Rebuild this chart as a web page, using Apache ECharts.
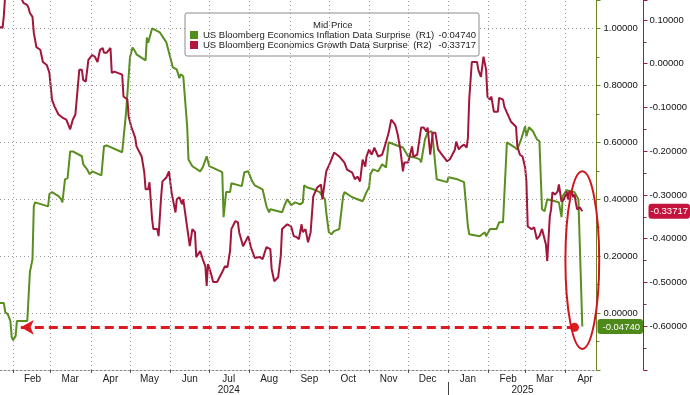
<!DOCTYPE html>
<html><head><meta charset="utf-8">
<script src="https://cdn.jsdelivr.net/npm/echarts@6/dist/echarts.min.js"></script>
<style>html,body{margin:0;padding:0;background:#fff}#c{width:690px;height:395px}</style>
</head><body><div id="c"></div>
<script>
const inflName = 'US Bloomberg Economics Inflation Data Surprise';
const growthName = 'US Bloomberg Economics Growth Data Surprise';
const inflTag = '(R1)';
const growthTag = '(R2)';
const inflLast = -0.04740;
const growthLast = -0.33717;

const inflDates = ['2024-01-22','2024-01-25','2024-01-26','2024-01-28','2024-01-30','2024-01-31','2024-02-01','2024-02-03','2024-02-04','2024-02-12','2024-02-14','2024-02-15','2024-02-16','2024-02-17','2024-02-18','2024-02-28','2024-02-29','2024-03-02','2024-03-07','2024-03-09','2024-03-10','2024-03-12','2024-03-14','2024-03-16','2024-03-18','2024-03-25','2024-03-26','2024-03-29','2024-03-31','2024-04-02','2024-04-09','2024-04-11','2024-04-13','2024-04-25','2024-04-26','2024-04-28','2024-04-29','2024-05-01','2024-05-03','2024-05-05','2024-05-06','2024-05-13','2024-05-14','2024-05-15','2024-05-18','2024-05-19','2024-05-24','2024-05-29','2024-06-01','2024-06-03','2024-06-06','2024-06-08','2024-06-09','2024-06-11','2024-06-14','2024-06-15','2024-06-18','2024-06-24','2024-06-26','2024-06-29','2024-07-01','2024-07-11','2024-07-12','2024-07-14','2024-07-17','2024-07-18','2024-07-26','2024-07-28','2024-07-31','2024-08-03','2024-08-05','2024-08-11','2024-08-14','2024-08-16','2024-08-17','2024-08-26','2024-08-28','2024-08-30','2024-09-02','2024-09-05','2024-09-09','2024-09-11','2024-09-12','2024-09-14','2024-09-19','2024-09-24','2024-09-26','2024-09-28','2024-09-29','2024-10-01','2024-10-03','2024-10-05','2024-10-09','2024-10-12','2024-10-13','2024-10-19','2024-10-27','2024-10-30','2024-11-01','2024-11-02','2024-11-04','2024-11-08','2024-11-11','2024-11-14','2024-11-16','2024-11-24','2024-11-27','2024-12-01','2024-12-06','2024-12-10','2024-12-11','2024-12-14','2024-12-16','2024-12-19','2024-12-20','2024-12-23','2024-12-31','2025-01-01','2025-01-08','2025-01-13','2025-01-16','2025-01-17','2025-01-25','2025-01-29','2025-01-30','2025-02-02','2025-02-07','2025-02-09','2025-02-12','2025-02-15','2025-02-21','2025-02-23','2025-02-26','2025-03-01','2025-03-02','2025-03-04','2025-03-07','2025-03-10','2025-03-12','2025-03-14','2025-03-16','2025-03-18','2025-03-24','2025-03-27','2025-03-29','2025-03-30','2025-04-02','2025-04-08','2025-04-11','2025-04-14'];
const inflValues = [0.035,0.035,0.004,-0.004,-0.028,-0.084,-0.095,-0.081,-0.028,-0.028,0.144,0.147,0.189,0.375,0.389,0.375,0.418,0.425,0.411,0.400,0.389,0.470,0.474,0.568,0.568,0.551,0.523,0.505,0.488,0.498,0.484,0.586,0.589,0.565,0.611,0.705,0.709,0.898,0.933,0.919,0.909,0.888,0.968,0.950,1.000,1.000,0.986,0.951,0.898,0.863,0.856,0.825,0.839,0.832,0.656,0.540,0.516,0.498,0.512,0.551,0.516,0.495,0.337,0.425,0.425,0.456,0.446,0.495,0.498,0.463,0.449,0.435,0.375,0.354,0.365,0.354,0.379,0.400,0.379,0.389,0.382,0.389,0.449,0.442,0.435,0.425,0.411,0.400,0.354,0.284,0.277,0.288,0.295,0.411,0.425,0.407,0.393,0.425,0.442,0.488,0.505,0.498,0.523,0.512,0.600,0.586,0.582,0.551,0.547,0.540,0.530,0.611,0.635,0.639,0.611,0.470,0.460,0.477,0.470,0.460,0.305,0.277,0.270,0.284,0.270,0.295,0.295,0.319,0.319,0.600,0.582,0.575,0.611,0.656,0.621,0.653,0.639,0.611,0.604,0.365,0.358,0.400,0.393,0.389,0.337,0.411,0.432,0.425,0.400,-0.0474];

const growthDates = ['2024-01-22','2024-01-24','2024-01-25','2024-01-26','2024-01-28','2024-02-02','2024-02-06','2024-02-08','2024-02-09','2024-02-12','2024-02-13','2024-02-14','2024-02-16','2024-02-17','2024-02-19','2024-02-22','2024-02-24','2024-02-27','2024-02-29','2024-03-02','2024-03-04','2024-03-07','2024-03-10','2024-03-13','2024-03-16','2024-03-18','2024-03-20','2024-03-21','2024-03-23','2024-03-25','2024-03-26','2024-03-28','2024-03-30','2024-04-02','2024-04-04','2024-04-06','2024-04-08','2024-04-10','2024-04-11','2024-04-13','2024-04-16','2024-04-17','2024-04-19','2024-04-25','2024-04-26','2024-04-29','2024-04-30','2024-05-02','2024-05-05','2024-05-06','2024-05-10','2024-05-12','2024-05-13','2024-05-15','2024-05-16','2024-05-18','2024-05-19','2024-05-22','2024-05-23','2024-05-25','2024-05-26','2024-05-29','2024-05-31','2024-06-02','2024-06-05','2024-06-06','2024-06-08','2024-06-10','2024-06-11','2024-06-14','2024-06-16','2024-06-18','2024-06-20','2024-06-21','2024-06-24','2024-06-26','2024-06-28','2024-06-29','2024-06-30','2024-07-02','2024-07-04','2024-07-07','2024-07-11','2024-07-13','2024-07-15','2024-07-17','2024-07-18','2024-07-21','2024-07-23','2024-07-24','2024-07-27','2024-07-31','2024-08-02','2024-08-05','2024-08-09','2024-08-11','2024-08-14','2024-08-17','2024-08-18','2024-08-20','2024-08-23','2024-08-25','2024-08-26','2024-08-30','2024-09-02','2024-09-04','2024-09-06','2024-09-08','2024-09-10','2024-09-11','2024-09-13','2024-09-15','2024-09-17','2024-09-19','2024-09-22','2024-09-25','2024-09-26','2024-09-29','2024-10-02','2024-10-05','2024-10-09','2024-10-13','2024-10-15','2024-10-19','2024-10-21','2024-10-23','2024-10-25','2024-10-27','2024-10-29','2024-10-30','2024-11-01','2024-11-03','2024-11-05','2024-11-08','2024-11-11','2024-11-13','2024-11-14','2024-11-16','2024-11-18','2024-11-21','2024-11-23','2024-11-25','2024-11-27','2024-11-28','2024-12-01','2024-12-04','2024-12-05','2024-12-08','2024-12-09','2024-12-11','2024-12-13','2024-12-15','2024-12-16','2024-12-18','2024-12-20','2024-12-22','2024-12-24','2024-12-25','2024-12-27','2024-12-31','2025-01-02','2025-01-04','2025-01-06','2025-01-07','2025-01-09','2025-01-11','2025-01-13','2025-01-15','2025-01-16','2025-01-17','2025-01-19','2025-01-23','2025-01-24','2025-01-26','2025-01-28','2025-01-30','2025-01-31','2025-02-02','2025-02-03','2025-02-05','2025-02-08','2025-02-09','2025-02-12','2025-02-13','2025-02-15','2025-02-18','2025-02-19','2025-02-22','2025-02-23','2025-02-25','2025-02-27','2025-03-01','2025-03-02','2025-03-03','2025-03-06','2025-03-08','2025-03-10','2025-03-12','2025-03-14','2025-03-17','2025-03-18','2025-03-19','2025-03-20','2025-03-21','2025-03-22','2025-03-24','2025-03-26','2025-03-27','2025-03-29','2025-03-30','2025-03-31','2025-04-02','2025-04-03','2025-04-04','2025-04-06','2025-04-07','2025-04-08','2025-04-09','2025-04-10','2025-04-12','2025-04-14'];
const growthValues = [0.084,0.082,0.111,0.157,0.19,0.20,0.168,0.146,0.139,0.134,0.127,0.116,0.107,0.071,0.038,0.032,0.004,-0.003,-0.021,-0.082,-0.098,-0.116,-0.123,-0.128,-0.150,-0.128,-0.116,-0.112,-0.014,-0.014,-0.037,-0.041,0.009,0.020,0.016,0.004,0.032,0.036,0.025,0.025,0.036,-0.021,-0.018,-0.025,-0.075,-0.082,-0.121,-0.144,-0.169,-0.189,-0.212,-0.248,-0.287,-0.287,-0.271,-0.355,-0.378,-0.378,-0.394,-0.303,-0.269,-0.260,-0.246,-0.294,-0.340,-0.310,-0.305,-0.321,-0.310,-0.374,-0.417,-0.378,-0.385,-0.442,-0.428,-0.447,-0.463,-0.508,-0.458,-0.476,-0.499,-0.499,-0.476,-0.463,-0.465,-0.428,-0.378,-0.360,-0.362,-0.385,-0.417,-0.394,-0.419,-0.444,-0.442,-0.447,-0.419,-0.424,-0.469,-0.497,-0.488,-0.440,-0.378,-0.367,-0.372,-0.394,-0.396,-0.401,-0.367,-0.385,-0.378,-0.408,-0.385,-0.303,-0.283,-0.276,-0.310,-0.246,-0.226,-0.203,-0.212,-0.226,-0.242,-0.249,-0.264,-0.258,-0.269,-0.219,-0.235,-0.212,-0.196,-0.208,-0.192,-0.212,-0.208,-0.189,-0.192,-0.158,-0.128,-0.139,-0.162,-0.196,-0.246,-0.226,-0.226,-0.189,-0.212,-0.208,-0.212,-0.146,-0.146,-0.155,-0.146,-0.208,-0.158,-0.158,-0.196,-0.192,-0.208,-0.223,-0.219,-0.208,-0.196,-0.178,-0.196,-0.189,-0.185,-0.192,-0.169,-0.082,0.004,0.004,-0.014,-0.030,0.016,-0.014,-0.075,-0.082,-0.075,-0.110,-0.110,-0.078,-0.082,-0.098,-0.112,-0.132,-0.135,-0.144,-0.189,-0.208,-0.212,-0.237,-0.269,-0.372,-0.378,-0.374,-0.401,-0.394,-0.378,-0.413,-0.451,-0.401,-0.349,-0.333,-0.294,-0.299,-0.292,-0.276,-0.315,-0.317,-0.310,-0.292,-0.310,-0.292,-0.294,-0.305,-0.299,-0.317,-0.333,-0.328,-0.33717];

const monthStarts = ['2024-02-01','2024-03-01','2024-04-01','2024-05-01','2024-06-01','2024-07-01','2024-08-01','2024-09-01','2024-10-01','2024-11-01','2024-12-01','2025-01-01','2025-02-01','2025-03-01','2025-04-01'];
const monthLabelDates = ['2024-02-16','2024-03-16','2024-04-16','2024-05-16','2024-06-16','2024-07-16','2024-08-16','2024-09-16','2024-10-16','2024-11-16','2024-12-16','2025-01-16','2025-02-16','2025-03-16','2025-04-16'];
const monthLabels = ['Feb','Mar','Apr','May','Jun','Jul','Aug','Sep','Oct','Nov','Dec','Jan','Feb','Mar','Apr'];
const yearLabelDates = ['2024-07-16','2025-02-27'];
const yearLabels = ['2024','2025'];
const yearBreaks = ['2025-01-01'];
const xStart = '2024-01-22T00:00:00Z';
const xEnd = '2025-04-24T22:00:00Z';

// annotations (data coordinates)
const arrowStart = ['2024-02-07', -0.05];
const arrowEnd = ['2025-04-08', -0.05];
const ellipseBox = {x0: '2025-04-01', x1: '2025-04-27', y0: 0.498, y1: -0.126};

const ts = s => Date.parse(s);
const inflData = inflDates.map((d, i) => [ts(d), inflValues[i]]);
const growthData = growthDates.map((d, i) => [ts(d), growthValues[i]]);
const monthStartTs = monthStarts.map(ts);
const monthLabelTs = monthLabelDates.map(ts);
const yearLabelTs = yearLabelDates.map(ts);

const FONT = '"Liberation Sans", Arial, sans-serif';
const GREEN = '#5a8e1f';
const RED = '#a3163b';
const GRID = {color: '#9a9a9a', width: 1, type: [1, 3]};

const chart = echarts.init(document.getElementById('c'), null, {renderer: 'canvas'});
chart.setOption({
  animation: false,
  backgroundColor: '#fff',
  grid: {left: 0, right: 92, top: 0, bottom: 24, containLabel: false},
  title: {
    text: 'Mid Price', left: 313, top: 20, padding: 0,
    textStyle: {fontFamily: FONT, fontSize: 9.5, fontWeight: 'normal', color: '#222'}
  },
  legend: {
    left: 185, top: 13, orient: 'vertical', icon: 'rect', itemWidth: 8, itemHeight: 8, itemGap: 0,
    padding: [17, 3, 6, 5], backgroundColor: '#fff', borderColor: '#8c8c8c', borderWidth: 1, borderRadius: 2,
    selectedMode: false,
    data: [
      {name: inflName, itemStyle: {color: '#4f8f1b'}},
      {name: growthName, itemStyle: {color: '#b5163c'}}
    ],
    formatter: name => name === inflName
      ? '{n|' + name + '  ' + inflTag + '}{v|' + inflLast.toFixed(5) + '}'
      : '{n|' + name + '  ' + growthTag + '}{v|' + growthLast.toFixed(5) + '}',
    textStyle: {
      fontFamily: FONT, fontSize: 9.5, color: '#222', lineHeight: 10,
      rich: {
        n: {width: 235, fontFamily: FONT, fontSize: 9.5, lineHeight: 10, color: '#222'},
        v: {width: 38, align: 'right', fontFamily: FONT, fontSize: 9.5, lineHeight: 10, color: '#222'}
      }
    }
  },
  xAxis: [
    {
      type: 'value', min: ts(xStart), max: ts(xEnd), position: 'bottom',
      axisLine: {show: true, onZero: false, lineStyle: {color: '#888', width: 1, type: [2, 2]}},
      axisTick: {show: true, customValues: monthStartTs, length: 3, inside: false, lineStyle: {color: '#555'}},
      axisLabel: {
        show: true, customValues: monthLabelTs, margin: 4,
        fontFamily: FONT, fontSize: 10, color: '#222',
        formatter: v => { const i = monthLabelTs.indexOf(v); return i >= 0 ? monthLabels[i] : ''; }
      },
      splitLine: {show: false}
    },
    {
      type: 'value', min: ts(xStart), max: ts(xEnd), position: 'bottom', offset: 12,
      axisLine: {show: true, onZero: false, lineStyle: {opacity: 0}},
      axisTick: {show: true, customValues: yearBreaks.map(ts), length: 13, inside: false, lineStyle: {color: '#444'}},
      axisLabel: {
        show: true, customValues: yearLabelTs, margin: 3,
        fontFamily: FONT, fontSize: 10, color: '#222',
        formatter: v => { const i = yearLabelTs.indexOf(v); return i >= 0 ? yearLabels[i] : ''; }
      },
      splitLine: {show: false}
    }
  ],
  yAxis: [
    {
      type: 'value', position: 'right', offset: 0, min: -0.2, max: 1.1, interval: 0.2,
      axisLine: {show: true, onZero: false, lineStyle: {color: '#6f7f25', width: 1}},
      axisTick: {show: true, length: 4, lineStyle: {color: '#5a8e1f'}},
      minorTick: {show: true, splitNumber: 2, length: 3, lineStyle: {color: '#6f7f25'}},
      axisLabel: {
        show: true, margin: 7, fontFamily: FONT, fontSize: 9.5, color: '#111',
        showMinLabel: false, showMaxLabel: false,
        formatter: v => v.toFixed(5)
      },
      splitLine: {show: true, showMinLine: false, showMaxLine: false, lineStyle: GRID},
      axisPointer: {
        show: true, type: 'line', value: inflLast, status: 'show', snap: false, triggerTooltip: false,
        lineStyle: {opacity: 0, width: 0},
        label: {
          show: true, margin: 1, formatter: p => Number(p.value).toFixed(5),
          backgroundColor: '#4e8a1a', color: '#fff', padding: [3, 3, 2, 5],
          fontFamily: FONT, fontSize: 9.5
        }
      }
    },
    {
      type: 'value', position: 'right', offset: 47, min: -0.7, max: 0.1456, interval: 0.1,
      axisLine: {show: true, onZero: false, lineStyle: {color: '#7d2b40', width: 1}},
      axisTick: {show: true, length: 4, lineStyle: {color: '#a3163b'}},
      minorTick: {show: true, splitNumber: 2, length: 3, lineStyle: {color: '#7d2b40'}},
      axisLabel: {
        show: true, margin: 6, fontFamily: FONT, fontSize: 9.5, color: '#111',
        showMinLabel: false, showMaxLabel: false,
        formatter: v => v.toFixed(5)
      },
      splitLine: {show: false},
      axisPointer: {
        show: true, type: 'line', value: growthLast, status: 'show', snap: false, triggerTooltip: false,
        lineStyle: {opacity: 0, width: 0},
        label: {
          show: true, margin: 6, formatter: p => Number(p.value).toFixed(5),
          backgroundColor: '#c4143e', color: '#fff', padding: [3, 2, 2, 2],
          fontFamily: FONT, fontSize: 9.5
        }
      }
    }
  ],
  series: [
    {
      // month-boundary gridlines, placed on the x scale
      name: 'monthGrid', type: 'line', xAxisIndex: 0, yAxisIndex: 0, data: [], z: 1,
      markLine: {
        silent: true, animation: false, symbol: 'none', label: {show: false},
        lineStyle: GRID,
        data: monthStartTs.map(t => ({xAxis: t}))
      }
    },
    {
      name: inflName, type: 'line', xAxisIndex: 0, yAxisIndex: 0, data: inflData,
      showSymbol: false, symbol: 'none', clip: true, z: 2,
      lineStyle: {color: GREEN, width: 2}, itemStyle: {color: GREEN},
      markLine: {
        silent: true, animation: false,
        label: {show: false},
        lineStyle: {color: '#dd1a1f', width: 3, type: [9, 5]},
        data: [[
          {coord: [ts(arrowStart[0]), arrowStart[1]], symbol: 'arrow', symbolSize: [11, 13]},
          {coord: [ts(arrowEnd[0]), arrowEnd[1]], symbol: 'circle', symbolSize: 9}
        ]]
      }
    },
    {
      name: growthName, type: 'line', xAxisIndex: 0, yAxisIndex: 1, data: growthData,
      showSymbol: false, symbol: 'none', clip: true, z: 3,
      lineStyle: {color: RED, width: 2}, itemStyle: {color: RED}
    }
  ]
});

// red ellipse annotation, positioned through the chart's own scales
const pA = chart.convertToPixel({xAxisIndex: 0, yAxisIndex: 0}, [ts(ellipseBox.x0), ellipseBox.y0]);
const pB = chart.convertToPixel({xAxisIndex: 0, yAxisIndex: 0}, [ts(ellipseBox.x1), ellipseBox.y1]);
chart.setOption({
  graphic: [{
    type: 'ellipse', z: 100, silent: true,
    shape: {cx: (pA[0] + pB[0]) / 2, cy: (pA[1] + pB[1]) / 2, rx: Math.abs(pB[0] - pA[0]) / 2, ry: Math.abs(pB[1] - pA[1]) / 2},
    style: {fill: 'none', stroke: '#d0161c', lineWidth: 2}
  }]
});
</script>
</body></html>
